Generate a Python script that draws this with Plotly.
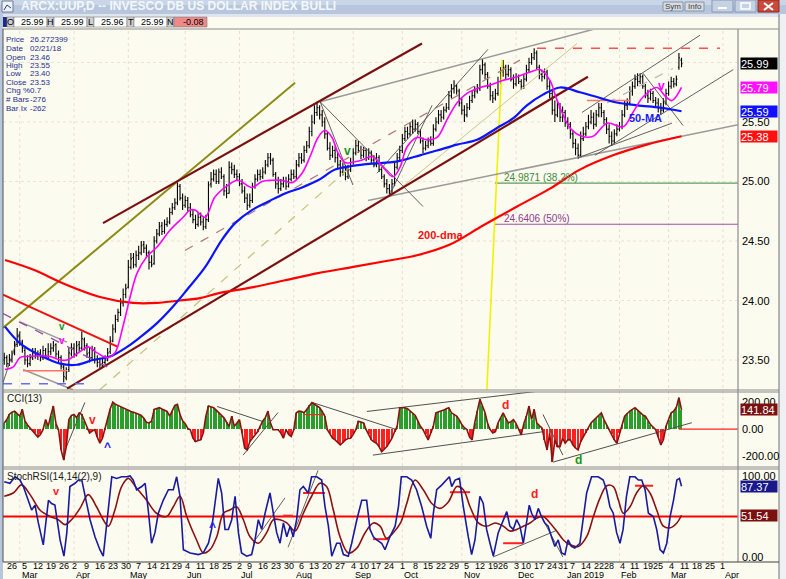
import plotly.graph_objects as go
import pandas as pd

W, H = 786, 579
FONT = "Liberation Sans, Arial, sans-serif"

# ----------------------------- calendar -----------------------------
holidays = ["2018-03-30", "2018-05-28", "2018-07-04", "2018-09-03", "2018-11-22",
            "2018-12-05", "2018-12-25", "2019-01-01", "2019-01-21", "2019-02-18"]
first_day, last_axis_day = "2018-02-21", "2019-04-05"

# ----------------------------- price data (daily, from 2018-02-21) -----------------------------
opens = [23.50, 23.52, 23.47,
         23.50, 23.56, 23.63, 23.71, 23.65,
         23.58, 23.50, 23.47, 23.52, 23.57,
         23.53, 23.56, 23.52, 23.58, 23.53,
         23.57, 23.60, 23.63, 23.55, 23.52,
         23.44, 23.35, 23.42, 23.55,
         23.60, 23.55, 23.63, 23.60, 23.67,
         23.62, 23.56, 23.52, 23.58, 23.50,
         23.48, 23.45, 23.48, 23.50, 23.57,
         23.66, 23.76, 23.84, 23.90, 23.98,
         24.05, 24.11, 24.28, 24.36, 24.30,
         24.38, 24.40, 24.47, 24.44, 24.40,
         24.32, 24.31, 24.50, 24.56, 24.63,
         24.58, 24.64, 24.66, 24.74, 24.78,
         24.82, 24.96, 24.86, 24.80,
         24.84, 24.78, 24.72, 24.68, 24.64,
         24.70, 24.66, 24.62, 24.68, 24.98,
         25.02, 25.06, 25.00, 25.08, 25.04,
         24.92, 24.90, 25.12, 25.10, 25.06,
         25.04, 24.98, 24.92, 24.86,
         24.80, 24.84, 24.96, 25.02, 25.06,
         25.04, 25.08, 25.14, 25.20, 25.18,
         25.06, 24.98, 24.94, 24.98, 25.00,
         24.96, 25.02, 25.06, 25.04, 25.14,
         25.20, 25.18, 25.26, 25.30, 25.42,
         25.50, 25.58, 25.62, 25.56, 25.50,
         25.40, 25.28, 25.22, 25.26, 25.20,
         25.14, 25.08, 25.12, 25.04, 25.10,
         25.16, 25.24, 25.30, 25.26,
         25.22, 25.26, 25.20, 25.24, 25.18,
         25.14, 25.20, 25.10, 25.04, 24.98,
         24.94, 24.92, 24.98, 25.12, 25.20,
         25.26, 25.36, 25.42, 25.40, 25.46,
         25.44, 25.48, 25.42, 25.34, 25.28,
         25.30, 25.34, 25.32, 25.44, 25.50,
         25.56, 25.54, 25.60, 25.62, 25.72,
         25.78, 25.80, 25.76, 25.66, 25.60,
         25.56, 25.62, 25.68, 25.72, 25.76,
         25.78, 25.94, 25.98, 25.90, 25.80,
         25.72, 25.70, 25.74, 25.84,
         25.92, 25.96, 25.90, 25.94, 25.86,
         25.82, 25.88, 25.84, 25.80,
         25.86, 25.94, 26.00, 26.04, 26.08,
         25.96, 25.90, 25.88, 25.92, 25.80,
         25.74, 25.60, 25.56, 25.62, 25.54,
         25.58, 25.50, 25.48,
         25.40, 25.32, 25.28, 25.22, 25.36,
         25.40, 25.46, 25.50, 25.54, 25.48,
         25.56, 25.62, 25.58, 25.52,
         25.44, 25.38, 25.34, 25.40, 25.44,
         25.46, 25.56, 25.64, 25.66, 25.76,
         25.80, 25.86, 25.84, 25.88, 25.80,
         25.72, 25.70, 25.74, 25.68,
         25.66, 25.62, 25.60, 25.66, 25.74,
         25.80, 25.84, 25.82, 25.96, 26.02]
highs = [23.56, 23.54, 23.55,
         23.58, 23.66, 23.77, 23.74, 23.67,
         23.60, 23.54, 23.55, 23.60, 23.60,
         23.58, 23.59, 23.62, 23.60, 23.64,
         23.64, 23.66, 23.64, 23.58, 23.54,
         23.46, 23.44, 23.60, 23.64,
         23.64, 23.66, 23.66, 23.74, 23.69,
         23.64, 23.60, 23.62, 23.61, 23.54,
         23.52, 23.52, 23.54, 23.60, 23.70,
         23.80, 23.88, 23.93, 24.02, 24.10,
         24.14, 24.34, 24.40, 24.40, 24.42,
         24.46, 24.50, 24.50, 24.47, 24.42,
         24.38, 24.54, 24.60, 24.66, 24.66,
         24.68, 24.70, 24.78, 24.82, 24.86,
         25.00, 24.98, 24.90, 24.88,
         24.87, 24.82, 24.76, 24.72, 24.74,
         24.74, 24.70, 24.72, 25.00, 25.08,
         25.10, 25.10, 25.11, 25.12, 25.06,
         24.98, 25.17, 25.16, 25.14, 25.10,
         25.07, 25.02, 24.96, 24.90,
         24.90, 24.99, 25.06, 25.10, 25.10,
         25.12, 25.18, 25.24, 25.24, 25.20,
         25.08, 25.04, 25.02, 25.04, 25.04,
         25.06, 25.10, 25.10, 25.18, 25.24,
         25.24, 25.30, 25.34, 25.46, 25.56,
         25.64, 25.67, 25.64, 25.60, 25.54,
         25.42, 25.33, 25.30, 25.30, 25.24,
         25.18, 25.16, 25.14, 25.14, 25.20,
         25.28, 25.35, 25.34, 25.30,
         25.29, 25.28, 25.28, 25.26, 25.22,
         25.24, 25.22, 25.12, 25.06, 25.02,
         24.98, 25.02, 25.16, 25.24, 25.30,
         25.40, 25.46, 25.46, 25.50, 25.52,
         25.52, 25.50, 25.44, 25.37, 25.34,
         25.37, 25.38, 25.48, 25.54, 25.60,
         25.60, 25.63, 25.66, 25.76, 25.82,
         25.85, 25.82, 25.78, 25.70, 25.64,
         25.66, 25.72, 25.76, 25.80, 25.82,
         25.98, 26.03, 26.00, 25.92, 25.83,
         25.76, 25.78, 25.88, 25.96,
         26.02, 25.98, 25.98, 25.96, 25.90,
         25.91, 25.90, 25.86, 25.90,
         25.98, 26.04, 26.08, 26.12, 26.10,
         25.98, 25.94, 25.95, 25.94, 25.85,
         25.76, 25.68, 25.68, 25.66, 25.63,
         25.60, 25.54, 25.50,
         25.43, 25.36, 25.32, 25.42, 25.46,
         25.50, 25.56, 25.60, 25.58, 25.60,
         25.66, 25.66, 25.60, 25.54,
         25.48, 25.42, 25.44, 25.48, 25.50,
         25.60, 25.68, 25.70, 25.80, 25.84,
         25.90, 25.91, 25.91, 25.90, 25.82,
         25.77, 25.78, 25.76, 25.71,
         25.70, 25.66, 25.70, 25.78, 25.84,
         25.88, 25.87, 25.89, 26.08, 26.04]
lows = [23.46, 23.44, 23.45,
        23.48, 23.54, 23.61, 23.62, 23.56,
        23.46, 23.44, 23.45, 23.50, 23.51,
        23.50, 23.49, 23.50, 23.51, 23.50,
        23.54, 23.57, 23.52, 23.48, 23.42,
        23.31, 23.33, 23.40, 23.53,
        23.52, 23.53, 23.57, 23.58, 23.58,
        23.52, 23.48, 23.50, 23.47, 23.44,
        23.43, 23.44, 23.46, 23.49, 23.55,
        23.65, 23.73, 23.82, 23.87, 23.95,
        24.02, 24.10, 24.26, 24.27, 24.28,
        24.34, 24.38, 24.40, 24.36, 24.26,
        24.28, 24.30, 24.48, 24.54, 24.55,
        24.56, 24.62, 24.64, 24.72, 24.76,
        24.80, 24.84, 24.76, 24.78,
        24.75, 24.70, 24.65, 24.60, 24.62,
        24.63, 24.59, 24.60, 24.66, 24.95,
        25.00, 24.98, 24.98, 25.02, 24.88,
        24.86, 24.90, 25.06, 25.03, 25.01,
        24.96, 24.90, 24.82, 24.76,
        24.78, 24.82, 24.94, 25.00, 25.01,
        25.02, 25.06, 25.12, 25.14, 25.04,
        24.94, 24.90, 24.92, 24.95, 24.93,
        24.95, 25.00, 25.02, 25.02, 25.12,
        25.15, 25.16, 25.24, 25.28, 25.38,
        25.48, 25.55, 25.52, 25.46, 25.36,
        25.26, 25.18, 25.20, 25.16, 25.10,
        25.04, 25.05, 25.01, 25.02, 25.08,
        25.14, 25.22, 25.24, 25.19,
        25.20, 25.17, 25.18, 25.15, 25.12,
        25.12, 25.08, 25.02, 24.95, 24.90,
        24.89, 24.90, 24.96, 25.10, 25.18,
        25.24, 25.34, 25.36, 25.38, 25.40,
        25.42, 25.40, 25.32, 25.24, 25.26,
        25.28, 25.30, 25.30, 25.42, 25.48,
        25.50, 25.52, 25.58, 25.60, 25.70,
        25.74, 25.73, 25.63, 25.56, 25.50,
        25.54, 25.60, 25.66, 25.70, 25.74,
        25.76, 25.90, 25.86, 25.78, 25.68,
        25.66, 25.68, 25.72, 25.82,
        25.88, 25.86, 25.88, 25.84, 25.78,
        25.80, 25.82, 25.77, 25.78,
        25.84, 25.92, 25.98, 26.02, 25.94,
        25.86, 25.84, 25.86, 25.77, 25.70,
        25.56, 25.50, 25.54, 25.50, 25.50,
        25.46, 25.44, 25.36,
        25.28, 25.22, 25.19, 25.20, 25.34,
        25.38, 25.44, 25.48, 25.44, 25.46,
        25.54, 25.54, 25.48, 25.40,
        25.32, 25.30, 25.32, 25.38, 25.42,
        25.44, 25.54, 25.60, 25.64, 25.72,
        25.78, 25.80, 25.82, 25.78, 25.70,
        25.66, 25.68, 25.66, 25.62,
        25.58, 25.56, 25.58, 25.64, 25.72,
        25.78, 25.79, 25.80, 25.94, 25.96]
closes = [23.52, 23.47, 23.50,
          23.55, 23.62, 23.70, 23.66, 23.60,
          23.50, 23.47, 23.52, 23.56, 23.54,
          23.55, 23.52, 23.58, 23.54, 23.57,
          23.60, 23.62, 23.55, 23.52, 23.45,
          23.36, 23.40, 23.56, 23.60,
          23.55, 23.62, 23.60, 23.68, 23.62,
          23.55, 23.52, 23.58, 23.50, 23.48,
          23.46, 23.48, 23.50, 23.56, 23.66,
          23.76, 23.84, 23.90, 23.98, 24.05,
          24.10, 24.28, 24.35, 24.30, 24.38,
          24.40, 24.46, 24.44, 24.40, 24.32,
          24.30, 24.50, 24.56, 24.62, 24.58,
          24.64, 24.66, 24.74, 24.78, 24.82,
          24.96, 24.86, 24.80, 24.84,
          24.78, 24.72, 24.68, 24.64, 24.70,
          24.66, 24.62, 24.68, 24.97, 25.02,
          25.06, 25.00, 25.08, 25.04, 24.92,
          24.90, 25.12, 25.10, 25.06, 25.04,
          24.98, 24.92, 24.86, 24.80,
          24.84, 24.96, 25.02, 25.06, 25.04,
          25.08, 25.14, 25.20, 25.18, 25.06,
          24.98, 24.94, 24.98, 25.00, 24.96,
          25.02, 25.06, 25.04, 25.14, 25.20,
          25.18, 25.26, 25.30, 25.42, 25.50,
          25.58, 25.62, 25.56, 25.50, 25.40,
          25.28, 25.22, 25.26, 25.20, 25.14,
          25.08, 25.12, 25.04, 25.10, 25.16,
          25.24, 25.30, 25.26, 25.22,
          25.26, 25.20, 25.24, 25.18, 25.14,
          25.20, 25.10, 25.04, 24.98, 24.94,
          24.92, 24.98, 25.12, 25.20, 25.26,
          25.36, 25.42, 25.40, 25.46, 25.44,
          25.48, 25.42, 25.34, 25.28, 25.30,
          25.34, 25.32, 25.44, 25.50, 25.56,
          25.54, 25.60, 25.62, 25.72, 25.78,
          25.80, 25.76, 25.66, 25.60, 25.56,
          25.62, 25.68, 25.72, 25.76, 25.78,
          25.94, 25.98, 25.90, 25.80, 25.72,
          25.70, 25.74, 25.84, 25.92,
          25.96, 25.90, 25.94, 25.86, 25.82,
          25.88, 25.84, 25.80, 25.86,
          25.94, 26.00, 26.04, 26.08, 25.96,
          25.90, 25.88, 25.92, 25.80, 25.74,
          25.60, 25.56, 25.62, 25.54, 25.58,
          25.50, 25.48, 25.40,
          25.32, 25.28, 25.22, 25.36, 25.40,
          25.46, 25.50, 25.54, 25.48, 25.56,
          25.62, 25.58, 25.52, 25.44,
          25.38, 25.34, 25.40, 25.44, 25.46,
          25.56, 25.64, 25.66, 25.76, 25.80,
          25.86, 25.84, 25.88, 25.80, 25.72,
          25.70, 25.74, 25.68, 25.66,
          25.62, 25.60, 25.66, 25.74, 25.80,
          25.84, 25.82, 25.86, 26.04, 25.99]

# moving averages (trading-day index, value)
ma_fast_x = [0.3, 3.4, 6.1, 8.8, 17.7, 21.6, 24.3, 29.3, 32.4, 35.9, 39.8, 42.8, 45.9, 48.7, 51.4, 55.2,
             59.1, 64.1, 69.2, 71.9, 73.8, 77.7, 81.5, 86.6, 90.4, 95.8, 99.7, 103.6, 107.5, 111.3, 115.2,
             118.3, 121.4, 124.1, 126.8, 129.1, 131.8, 134.5, 138.4, 142.3, 146.5, 150.4, 153.1, 155.8,
             159.7, 163.5, 167.4, 171.3, 175.1, 179.0, 184.0, 187.9, 193.0, 198.4, 203.4, 207.3, 211.1,
             213.4, 215.8, 218.9, 223.5, 227.8, 233.2, 239.4, 243.2, 247.1, 252.5, 255.6, 258.3, 262.0]
ma_fast_y = [23.42, 23.44, 23.52, 23.53, 23.53, 23.50, 23.50, 23.57, 23.61, 23.56, 23.52, 23.56, 23.78,
             24.03, 24.23, 24.37, 24.45, 24.59, 24.70, 24.76, 24.76, 24.70, 24.87, 24.97, 25.01, 24.95,
             25.00, 25.01, 25.01, 24.99, 25.07, 25.21, 25.37, 25.43, 25.37, 25.24, 25.16, 25.16, 25.18,
             25.21, 25.12, 25.04, 25.12, 25.29, 25.37, 25.35, 25.37, 25.52, 25.66, 25.74, 25.79, 25.81,
             25.85, 25.88, 25.92, 25.94, 25.85, 25.71, 25.58, 25.45, 25.38, 25.38, 25.49, 25.46, 25.58,
             25.71, 25.79, 25.72, 25.68, 25.79]
ma50_x = [0.3, 6.1, 13.8, 21.6, 28.1, 34.3, 40.9, 47.5, 52.5, 59.1, 65.3, 70.7, 77.7, 84.2, 89.3, 95.8,
          102.0, 108.6, 115.2, 121.4, 128.0, 134.5, 142.3, 149.2, 154.3, 160.8, 167.4, 175.1, 182.9,
          190.6, 196.8, 202.2, 208.4, 215.0, 222.7, 229.3, 235.5, 244.8, 253.7, 262.0]
ma50_y = [23.78, 23.64, 23.54, 23.47, 23.46, 23.50, 23.53, 23.61, 23.69, 23.81, 23.95, 24.09, 24.28,
          24.51, 24.65, 24.76, 24.83, 24.90, 24.95, 25.01, 25.10, 25.13, 25.15, 25.16, 25.18, 25.22,
          25.26, 25.31, 25.35, 25.45, 25.53, 25.64, 25.73, 25.79, 25.75, 25.71, 25.67, 25.64, 25.62, 25.59]
ma200_x = [0.3, 11.1, 24.3, 37.0, 49.8, 59.1, 68.0, 75.7, 82.7, 95.8, 108.6, 121.4, 134.5, 147.3,
           159.7, 172.4, 185.2, 198.4, 211.1, 222.7, 235.5, 248.6, 262.0]
ma200_y = [24.34, 24.26, 24.13, 24.03, 23.98, 23.98, 24.00, 24.02, 24.06, 24.11, 24.17, 24.23, 24.28,
           24.33, 24.38, 24.47, 24.63, 24.79, 24.94, 25.10, 25.22, 25.31, 25.38]

# CCI(13), daily
cci13 = [45, 70, 110,
         125, 132, 110, 95, 145,
         60, 30, 8, -10, -30,
         -60, -40, -5, 70, 20,
         100, 170, 40, -5, -155,
         -230, -130, 70, 100,
         108, 83, 120, 108, 58,
         10, -30, -15, -5, -60,
         -105, -68, 10, 90, 150,
         200, 183, 175, 165, 158,
         150, 140, 130, 125, 120,
         110, 100, 80, 50, 45,
         58, 145, 152, 158, 148,
         138, 130, 95, 133, 175,
         183, 108, 60, 40,
         5, -5, -68, -93, -85,
         -80, -30, 95, 170, 165,
         158, 140, 120, 100, 83,
         50, 20, 95, 20, 45,
         70, -30, -140, -155,
         -93, -68, -40, -20, 20,
         60, 83, 133, 45, -5,
         -5, -5, -30, -68, -5,
         -40, -55, -5, 120, 133,
         130, 120, 145, 175, 195,
         183, 170, 158, 130, 95,
         -5, -40, -68, -80, -100,
         -118, -100, -80, -70, -68,
         -40, -5, 58, 50,
         45, -5, -40, -80, -95,
         -105, -130, -168, -150, -130,
         -100, -68, -20, 20, 158,
         160, 158, 150, 135, 120,
         100, 60, 20, -5, -40,
         -80, -30, 20, 120, 125,
         130, 140, 150, 158, 120,
         110, 95, 70, 33, 10,
         -5, -60, -80, 45, 130,
         220, 170, 120, 40, -5,
         -30, -20, 45, 80,
         120, 80, 45, 55, 70,
         40, -5, -43, 40,
         95, 170, 70, 145, 45,
         25, 8, -80, -155, -30,
         -243, -80, -130, -130, -68,
         -105, -80, -80,
         -118, -140, -155, -93, -60,
         -30, 10, 45, 65, 83,
         100, 120, 70, 30,
         -5, -40, -80, -105, -30,
         30, 95, 115, 133, 145,
         158, 140, 120, 105, 95,
         60, 33, 15, -5,
         -60, -118, -80, 20, 70,
         120, 133, 160, 233, 141.84]

# StochRSI(14,14(2),9)
stoch_k_x = [0, 2.2, 4.2, 6.1, 7.4, 9.3, 10.6, 11.9, 13.2, 15.1, 17.1, 18.3, 19.6, 21.6, 23.1, 24.2, 25.4,
             27.4, 28.7, 30, 31.2, 33.2, 35.1, 37, 38.3, 39.6, 41.6, 43.5, 45.4, 47.4, 48.7, 49.9, 51.2,
             53.2, 54.5, 55.7, 57, 58.3, 59.6, 61.5, 63.5, 65.4, 66.7, 68, 69.3, 71.9, 75.1, 77, 79, 80.2,
             81.5, 82.8, 84.1, 85.4, 86.7, 88, 89.3, 90.6, 91.8, 93.8, 95.7, 97, 98.3, 99.6, 100.9, 102.8,
             104.1, 105.4, 106.7, 108, 109.3, 110.6, 111.8, 113.1, 114.4, 115.7, 117.6, 118.9, 120.9,
             122.8, 124.1, 125.4, 126.7, 128.6, 129.9, 131.2, 133.1, 134.4, 136.4, 138.3, 140.2, 141.5,
             142.8, 144.1, 146, 147.3, 149.2, 151.2, 152.5, 153.6, 155.7, 157.6, 159.5, 161.5, 163.4, 165,
             166, 167.3, 169.3, 171.2, 172.2, 173.1, 174.4, 176.1, 177.6, 179.5, 180.8, 182.1, 184, 185.3,
             186.6, 187.9, 189.2, 191.1, 193.1, 194.4, 195.6, 196.9, 198.2, 199.5, 200.8, 202.1, 203.1,
             204, 205.3, 206.6, 207.8, 209.1, 210.4, 211.7, 213, 214.3, 215.6, 216.9, 218.1, 219.4, 220.7,
             222.7, 224, 225.3, 227.2, 229.8, 231.7, 233, 234.3, 235.6, 236.9, 238.2, 239.4, 240.7, 242,
             244, 245.3, 246.6, 247.9, 249.2, 251.1, 252.4, 253.7, 255, 256.3, 257.6, 258.9, 260.2, 261.2,
             262]
stoch_k_y = [93, 91, 99, 95, 87, 70, 58, 64, 42, 15, 70, 66, 64, 21, 1, 30, 87, 91, 95, 95, 75, 46, 25, 9, 1,
             38, 99, 97, 99, 99, 100, 95, 83, 87, 91, 58, 17, 30, 54, 70, 83, 83, 99, 75, 9, 5, 3, 5, 17,
             34, 66, 97, 79, 34, 34, 46, 75, 30, 5, 1, 3, 21, 46, 34, 54, 79, 54, 30, 17, 42, 25, 38, 25,
             46, 83, 87, 79, 99, 99, 95, 62, 38, 1, 17, 17, 3, 1, 17, 46, 70, 70, 34, 25, 21, 17, 9, 25,
             38, 62, 99, 99, 95, 83, 62, 38, 23, 54, 83, 89, 95, 99, 87, 95, 97, 62, 25, 3, 21, 75, 66,
             34, 17, 1, 30, 46, 56, 38, 34, 46, 38, 17, 46, 64, 54, 46, 60, 50, 42, 38, 25, 13, 21, 5, 3,
             21, 13, 11, 17, 46, 79, 99, 99, 95, 83, 62, 54, 30, 17, 34, 75, 99, 99, 95, 95, 83, 54, 50,
             34, 9, 5, 17, 50, 70, 95, 97, 87.37]
stoch_d_x = [0, 3.5, 6.7, 10, 13.8, 17.7, 20.9, 23.5, 26, 29.3, 32.5, 35.7, 38.3, 40.3, 42.8, 45.4, 48,
             51.2, 55.1, 58.9, 62.8, 65.4, 68, 70.6, 74.4, 77, 79.6, 82.2, 84.8, 87.3, 89.9, 92.5, 95.1,
             98.3, 101.5, 104.1, 106.7, 109.3, 112.5, 115.7, 118.9, 122.1, 124.7, 127.3, 129.9, 133.1,
             136.4, 139.6, 142.8, 145.4, 147.9, 150.5, 153.3, 155.7, 158.9, 162.1, 165.4, 168.6, 171.8,
             175.1, 177.6, 180.2, 183.4, 186.6, 189.9, 193.1, 195.6, 198.2, 200.8, 203.4, 206, 208.5,
             211.1, 213.7, 216.3, 218.9, 222.1, 225.3, 227.9, 230.5, 233.1, 235.6, 237.6, 239.5, 242.1,
             244.6, 247.2, 249.8, 252.4, 255, 257.6, 260.2, 262]
stoch_d_y = [75, 79, 89, 77, 58, 50, 46, 40, 46, 60, 77, 62, 46, 38, 58, 87, 97, 85, 70, 54, 50, 62, 75, 50,
             21, 5, 9, 25, 54, 58, 62, 46, 25, 17, 30, 46, 46, 42, 32, 54, 75, 91, 87, 58, 25, 5, 11, 30,
             42, 38, 23, 30, 42, 66, 95, 83, 66, 60, 68, 87, 83, 62, 42, 38, 42, 38, 32, 34, 38, 42, 48,
             50, 42, 32, 21, 15, 13, 25, 50, 73, 88, 87, 70, 54, 62, 79, 88, 79, 58, 38, 36, 42, 51.54]

# drawn trendlines: (x0, y0, x1, y1) in (trading-day index, value)
olive_lines = [(-0.48, 23.77, 112.5, 25.83)]
maroon_lines = [(38.2, 24.65, 161.6, 26.16), (24.3, 23.26, 225.8, 25.88)]
red_lines = [(-0.48, 24.05, 44.0, 23.61)]
pink_lines = [(7.3, 23.41, 24.3, 23.41), (225.4, 25.68, 242.1, 25.68)]
blue_dash_lines = [(-0.48, 23.30, 33.2, 23.30)]
purple_dash_lines = [(-0.48, 23.89, 40.9, 23.43)]
gray_lines = [(6.1, 23.82, 24.3, 23.65), (7.3, 23.42, 26.6, 23.25), (122.2, 25.67, 235.1, 26.32),
              (140.7, 24.84, 284.6, 25.48)]
thin_lines = [(-0.48, 23.31, 6.1, 23.74), (122.2, 25.67, 162.0, 24.79), (122.2, 25.67, 134.9, 24.97),
              (149.2, 24.89, 165.5, 25.64), (144.2, 25.07, 187.1, 26.11), (223.5, 25.58, 269.2, 26.23),
              (228.5, 25.22, 282.0, 25.94), (222.0, 25.20, 258.3, 25.49), (247.1, 25.91, 262.6, 25.47)]
brown_dash_lines = [(69.9, 24.42, 199.5, 26.02)]
khaki_dash_lines = [(37.0, 23.25, 133.8, 25.12)]
khaki_lines = [(149.2, 24.87, 221.6, 26.16)]
gray_dash_lines = [(233.2, 25.66, 258.7, 25.95)]
red_dash_lines = [(206.1, 26.12, 276.9, 26.12)]
yellow_lines = [(192.6, 26.02, 186.7, 23.25)]
fib_levels = [24.9871, 24.6406]
fib_labels = ["24.9871 (38.2%)", "24.6406 (50%)"]
fib_start = 189.8

cci_gray_lines = [(22.7, -193, 31.2, 197), (82.3, 167, 100.1, 55), (92.4, -193, 105.9, 122),
                  (119.1, 197, 151.9, -5), (140.3, 130, 206.5, 280), (142.6, -193, 208.4, -20),
                  (208.4, 108, 216.1, -193), (212.3, -245, 266.0, 47)]
cci_red_lines = [(116.3, 107, 124.1, 107), (261.0, 0, 284.0, 0)]
stoch_level = 50
stoch_red_segs = [(172.4, 80, 180.2, 80), (193.0, 17, 200.7, 17), (244.0, 88, 251.0, 88),
                  (115.6, 79, 124.1, 79), (142.7, 22, 148.5, 22), (107.8, 51, 111.7, 51)]
stoch_gray_lines = [(96.2, 17, 108.6, 73), (109.8, 12, 121.4, 107), (189.1, 0, 213.8, 33),
                    (208.4, 46, 216.1, 0)]

# header values
header_ohlc = [("O", "25.99"), ("H", "25.99"), ("L", "25.96"), ("T", "25.99"), ("N", "-0.08")]
info_rows = [("Price", "26.272399"), ("Date", "02/21/18"), ("Open", "23.46"), ("High", "23.55"),
             ("Low", "23.40"), ("Close", "23.53"), ("Chg %", "0.7"), ("# Bars", "-276"), ("Bar Ix", "-262")]

n = len(closes)
assert len(opens) == n and len(highs) == n and len(lows) == n and len(cci13) == n, \
    (len(opens), len(highs), len(lows), len(closes), len(cci13))
assert len(ma_fast_x) == len(ma_fast_y) and len(ma50_x) == len(ma50_y) and len(ma200_x) == len(ma200_y)
assert len(stoch_k_x) == len(stoch_k_y), (len(stoch_k_x), len(stoch_k_y))
assert len(stoch_d_x) == len(stoch_d_y), (len(stoch_d_x), len(stoch_d_y))

hol = set(pd.to_datetime(holidays))
cal = [d for d in pd.bdate_range(first_day, last_axis_day) if d not in hol]
xi = list(range(n))

# ----------------------------- geometry helpers -----------------------------
def PX(x):
    return x / W


def PY(y):
    return 1 - y / H


X_LEFT, X_AXIS, X_RIGHT = 3, 738, 779
MAIN = (30, 390)
CCI = (392, 467)
STO = (470, 562)
XR = [-0.48, 283.85]

fig = go.Figure()


def add_lines(segs, axis, color, width, dash="solid"):
    xs, ys = [], []
    for (a, b, c, d) in segs:
        xs += [a, c, None]
        ys += [b, d, None]
    fig.add_trace(go.Scatter(x=xs, y=ys, mode="lines", yaxis=axis, hoverinfo="skip",
                             line=dict(color=color, width=width, dash=dash), showlegend=False))


# ----------------------------- main panel -----------------------------
for lv in fib_levels:
    add_lines([(fib_start, lv, XR[1], lv)], "y", "#5e9e5e" if lv == fib_levels[0] else "#a34fa3", 1.2)
add_lines(yellow_lines, "y", "#f2f200", 1.6)
add_lines(khaki_dash_lines, "y", "#c2c27a", 1.2, "dash")
add_lines(khaki_lines, "y", "#c8c88a", 1.0)
add_lines(brown_dash_lines, "y", "#b07878", 1.2, "dash")
add_lines(gray_dash_lines, "y", "#b8b8b8", 1.2, "dash")
add_lines(gray_lines, "y", "#9a9a9a", 1.5)
add_lines(thin_lines, "y", "#505050", 0.9)
add_lines(olive_lines, "y", "#8c8c14", 2)
add_lines(maroon_lines, "y", "#7a1010", 2.2)
add_lines(red_lines, "y", "#ee1111", 2)
add_lines(pink_lines, "y", "#ff7070", 1.6)
add_lines(blue_dash_lines, "y", "#6a6aff", 1.5, "dash")
add_lines(purple_dash_lines, "y", "#9a4aa8", 1.3, "dash")
add_lines(red_dash_lines, "y", "#ff5050", 1.5, "dash")

fig.add_trace(go.Scatter(x=ma200_x, y=ma200_y, mode="lines", yaxis="y", line=dict(color="#ff0000", width=2.2, shape="spline"), hoverinfo="skip", showlegend=False))
fig.add_trace(go.Scatter(x=ma50_x, y=ma50_y, mode="lines", yaxis="y", line=dict(color="#0a14ff", width=2.2, shape="spline"), hoverinfo="skip", showlegend=False))
fig.add_trace(go.Ohlc(x=xi, open=opens, high=highs, low=lows, close=closes, yaxis="y",
                      increasing=dict(line=dict(color="black", width=1.1)),
                      decreasing=dict(line=dict(color="black", width=1.1)),
                      tickwidth=0.4, hoverinfo="skip", showlegend=False))
fig.add_trace(go.Scatter(x=ma_fast_x, y=ma_fast_y, mode="lines", yaxis="y", line=dict(color="#ff00ff", width=1.6, shape="spline"), hoverinfo="skip", showlegend=False))

# ----------------------------- CCI panel -----------------------------
fig.add_trace(go.Bar(x=xi, y=cci13, yaxis="y2", width=0.42,
                     marker=dict(color=["#2a9e2a" if v >= 0 else "#ff2020" for v in cci13], line=dict(width=0)),
                     hoverinfo="skip", showlegend=False))
add_lines(cci_gray_lines, "y2", "#505050", 1.0)
add_lines(cci_red_lines, "y2", "#ff2020", 1.2)
fig.add_trace(go.Scatter(x=xi, y=cci13, mode="lines", yaxis="y2", line=dict(color="#8b1212", width=1.6), hoverinfo="skip", showlegend=False))

# ----------------------------- StochRSI panel -----------------------------
add_lines([(XR[0], stoch_level, XR[1], stoch_level)], "y3", "#ff0000", 2)
add_lines(stoch_gray_lines, "y3", "#606060", 1.0)
add_lines(stoch_red_segs, "y3", "#ff2020", 2)
fig.add_trace(go.Scatter(x=stoch_d_x, y=stoch_d_y, mode="lines", yaxis="y3", line=dict(color="#8b1212", width=1.6, shape="spline"), hoverinfo="skip", showlegend=False))
fig.add_trace(go.Scatter(x=stoch_k_x, y=stoch_k_y, mode="lines", yaxis="y3", line=dict(color="#1a1a9e", width=1.6), hoverinfo="skip", showlegend=False))

# ----------------------------- shapes -----------------------------
shapes = []


def rect(x0, y0, x1, y1, fill, line=None, lw=0):
    shapes.append(dict(type="rect", xref="paper", yref="paper", x0=PX(x0), x1=PX(x1), y0=PY(y1), y1=PY(y0),
                       fillcolor=fill, line=dict(color=line or fill, width=lw), layer="above"))


def pline(x0, y0, x1, y1, color, width=1, dash="solid", layer="above"):
    shapes.append(dict(type="line", xref="paper", yref="paper", x0=PX(x0), x1=PX(x1), y0=PY(y0), y1=PY(y1),
                       line=dict(color=color, width=width, dash=dash), layer=layer))


month_starts = [i for i in range(1, len(cal)) if cal[i].month != cal[i - 1].month]
week_starts = [i for i in range(1, len(cal)) if cal[i].weekday() < cal[i - 1].weekday()]
for i in month_starts:
    shapes.append(dict(type="line", xref="x", yref="paper", x0=i, x1=i, y0=PY(STO[1]), y1=PY(MAIN[0]),
                       line=dict(color="#e4e0d0", width=1, dash="dot"), layer="below"))
for lv in [23.5, 24.0, 24.5, 25.0, 25.5, 26.0]:
    shapes.append(dict(type="line", xref="paper", yref="y", x0=PX(X_LEFT), x1=PX(X_AXIS), y0=lv, y1=lv,
                       line=dict(color="#e8e4d4", width=1, dash="dot"), layer="below"))

# window chrome
rect(0, 0, 786, 14, "#b7c6dc")
rect(0, 0, 786, 5, "#c9d6e7")
rect(0, 14, 786, 17, "#dfe5ee")
rect(0, 14, 3, 579, "#b7c6dc")
rect(X_RIGHT, 14, 786, 579, "#eef0f4")
pline(X_RIGHT, 14, X_RIGHT, 579, "#707070", 1)
rect(2, 1, 13, 12, "#eef1f6", "#6a7a96", 1)
pline(4, 10, 7, 5, "#304070", 1)
pline(7, 5, 11, 8, "#304070", 1)
rect(663, 2, 683, 11, "#d7dbe2", "#8a94a6", 1)
rect(685, 2, 704, 11, "#d7dbe2", "#8a94a6", 1)
rect(712, 0, 733, 12, "#c6d2e4", "#8898b4", 1)
rect(735, 0, 756, 12, "#c6d2e4", "#8898b4", 1)
rect(758, 0, 779, 12, "#c9493b", "#8a2a20", 1)
pline(718, 8, 727, 8, "white", 2)
rect(741, 3, 750, 9, "rgba(0,0,0,0)", "white", 1.5)
pline(764, 3, 773, 10, "white", 2)
pline(764, 10, 773, 3, "white", 2)

# OHLC row
rect(3, 17, 7, 27, "#1c2a8a")
cx = 7
for lab, val in header_ohlc:
    rect(cx, 17, cx + 7, 27, "#cfcfcf", "#7a7a7a", 0.6)
    fill = "#f08a8a" if lab == "N" else "#ffffff"
    rect(cx + 7, 17, cx + 40, 27, fill, "#7a7a7a", 0.6)
    cx += 40

# chart frame
pline(X_LEFT, 29, X_RIGHT, 29, "#8c8c8c", 1)
pline(X_LEFT, 29, X_LEFT, STO[1], "#505050", 1)
pline(X_AXIS, 29, X_AXIS, STO[1], "#8c8c8c", 1.2)
for yy in (MAIN[1], MAIN[1] + 2, CCI[1], CCI[1] + 2):
    pline(X_LEFT, yy, X_RIGHT, yy, "#8a8a8a", 1)
pline(X_LEFT, STO[1], X_RIGHT, STO[1], "#404040", 1)

# ----------------------------- annotations -----------------------------
ann = []


def txt(x, y, s, size=11, color="black", xref="paper", yref="paper", xanchor="left", yanchor="middle", **kw):
    ann.append(dict(x=x, y=y, text=s, xref=xref, yref=yref, xanchor=xanchor, yanchor=yanchor, showarrow=False,
                    font=dict(family=FONT, size=size, color=color), **kw))


txt(PX(19), PY(6), "<b>ARCX:UUP,D -- INVESCO DB US DOLLAR INDEX BULLI</b>", 12, "#f4f7fb")
txt(PX(673), PY(6.5), "Sym", 8, "#404040", xanchor="center")
txt(PX(694.5), PY(6.5), "Info", 8, "#404040", xanchor="center")
cx = 7
for lab, val in header_ohlc:
    txt(PX(cx + 3.5), PY(22), lab, 9, "black", xanchor="center")
    txt(PX(cx + 39), PY(22), val, 9, "black", xanchor="right")
    cx += 40
for k, (lab, val) in enumerate(info_rows):
    yy = 40 + k * 8.5
    txt(PX(4), PY(yy), lab, 8, "#1f2f8f")
    txt(PX(28), PY(yy), val, 8, "#1f2f8f")


def axis_label(val, s, yref, bg=None, fg="black"):
    d = dict(x=PX(X_AXIS + 2), y=val, text=s, xref="paper", yref=yref, xanchor="left", yanchor="middle",
             showarrow=False, font=dict(family=FONT, size=11, color=fg), align="left")
    if bg:
        d.update(bgcolor=bg, width=36, borderpad=0, height=11)
    ann.append(d)


for v in [25.5, 25.0, 24.5, 24.0, 23.5]:
    axis_label(v, f"{v:.2f}", "y")
axis_label(closes[-1], f"{closes[-1]:.2f}", "y", "#000000", "white")
axis_label(ma_fast_y[-1], f"{ma_fast_y[-1]:.2f}", "y", "#ff10ff", "white")
axis_label(ma50_y[-1], f"{ma50_y[-1]:.2f}", "y", "#1010ff", "white")
axis_label(ma200_y[-1], f"{ma200_y[-1]:.2f}", "y", "#ff1010", "white")
for v in [200, 0, -200]:
    axis_label(v, f"{v:.2f}", "y2")
axis_label(cci13[-1], f"{cci13[-1]:.2f}", "y2", "#7a1010", "white")
for v in [100, 0]:
    axis_label(v, f"{v:.2f}", "y3")
axis_label(stoch_k_y[-1], f"{stoch_k_y[-1]:.2f}", "y3", "#18188a", "white")
axis_label(stoch_d_y[-1], f"{stoch_d_y[-1]:.2f}", "y3", "#7a1010", "white")

for i in week_starts:
    txt(i, PY(565.5), str(cal[i].day), 9, "black", xref="x", xanchor="center")
for i in month_starts:
    name = cal[i].strftime("%b") + (" 2019" if cal[i].month == 1 else "")
    txt(i, PY(574.5), name, 9, "black", xref="x", xanchor="left")

txt(22.3, 23.78, "<b>v</b>", 10, "#169616", "x", "y", "center")
txt(22.3, 23.665, "<b>v</b>", 10, "#ff00ff", "x", "y", "center")
txt(132.6, 25.26, "<b>v</b>", 12, "#169616", "x", "y", "center")
txt(254.1, 25.80, "<b>v</b>", 12, "#ff00ff", "x", "y", "center")
txt(247.9, 25.53, "<b>50-MA</b>", 11, "#1a1aff", "x", "y", "center")
txt(169.0, 24.55, "<b>200-dma</b>", 11, "#ee1111", "x", "y", "center")
txt(fib_start + 2.8, fib_levels[0] + 0.045, fib_labels[0], 10, "#3e8a3e", "x", "y", "left")
txt(fib_start + 2.8, fib_levels[1] + 0.045, fib_labels[1], 10, "#8e3a8e", "x", "y", "left")
txt(PX(5), PY(398), "CCI(13)", 10, "#202020")
txt(34, 70, "<b>v</b>", 12, "#ff2020", "x", "y2", "center")
txt(40.1, -132, "<b>^</b>", 12, "#1a1aff", "x", "y2", "center")
txt(194.1, 175, "<b>d</b>", 12, "#ff2020", "x", "y2", "center")
txt(222.0, -230, "<b>d</b>", 12, "#169616", "x", "y2", "center")
txt(PX(5), PY(476.5), "StochRSI(14,14(2),9)", 10, "#202020")
txt(20.4, 81, "<b>v</b>", 11, "#ff2020", "x", "y3", "center")
txt(80.4, 37, "<b>^</b>", 12, "#1a1aff", "x", "y3", "center")
txt(205.3, 78, "<b>d</b>", 12, "#ff2020", "x", "y3", "center")

# ----------------------------- layout -----------------------------
ax_common = dict(showgrid=False, zeroline=False, showticklabels=False, ticks="", showline=False, fixedrange=True)
fig.update_layout(
    width=W, height=H, margin=dict(l=0, r=0, t=0, b=0),
    paper_bgcolor="#fcfbef", plot_bgcolor="#fcfbef",
    showlegend=False, bargap=0,
    xaxis=dict(domain=[PX(X_LEFT), PX(X_AXIS)], range=XR, anchor="y3", rangeslider=dict(visible=False), **ax_common),
    yaxis=dict(domain=[PY(MAIN[1]), PY(MAIN[0])], range=[23.248, 26.273], anchor="x", **ax_common),
    yaxis2=dict(domain=[PY(CCI[1]), PY(CCI[0])], range=[-281, 274], anchor="x", **ax_common),
    yaxis3=dict(domain=[PY(STO[1]), PY(STO[0])], range=[-6.2, 107.4], anchor="x", **ax_common),
    shapes=shapes, annotations=ann,
)

fig.write_html("out.html", config={"displayModeBar": False},
               post_script="document.body.style.margin='0';document.body.style.overflow='hidden';")
